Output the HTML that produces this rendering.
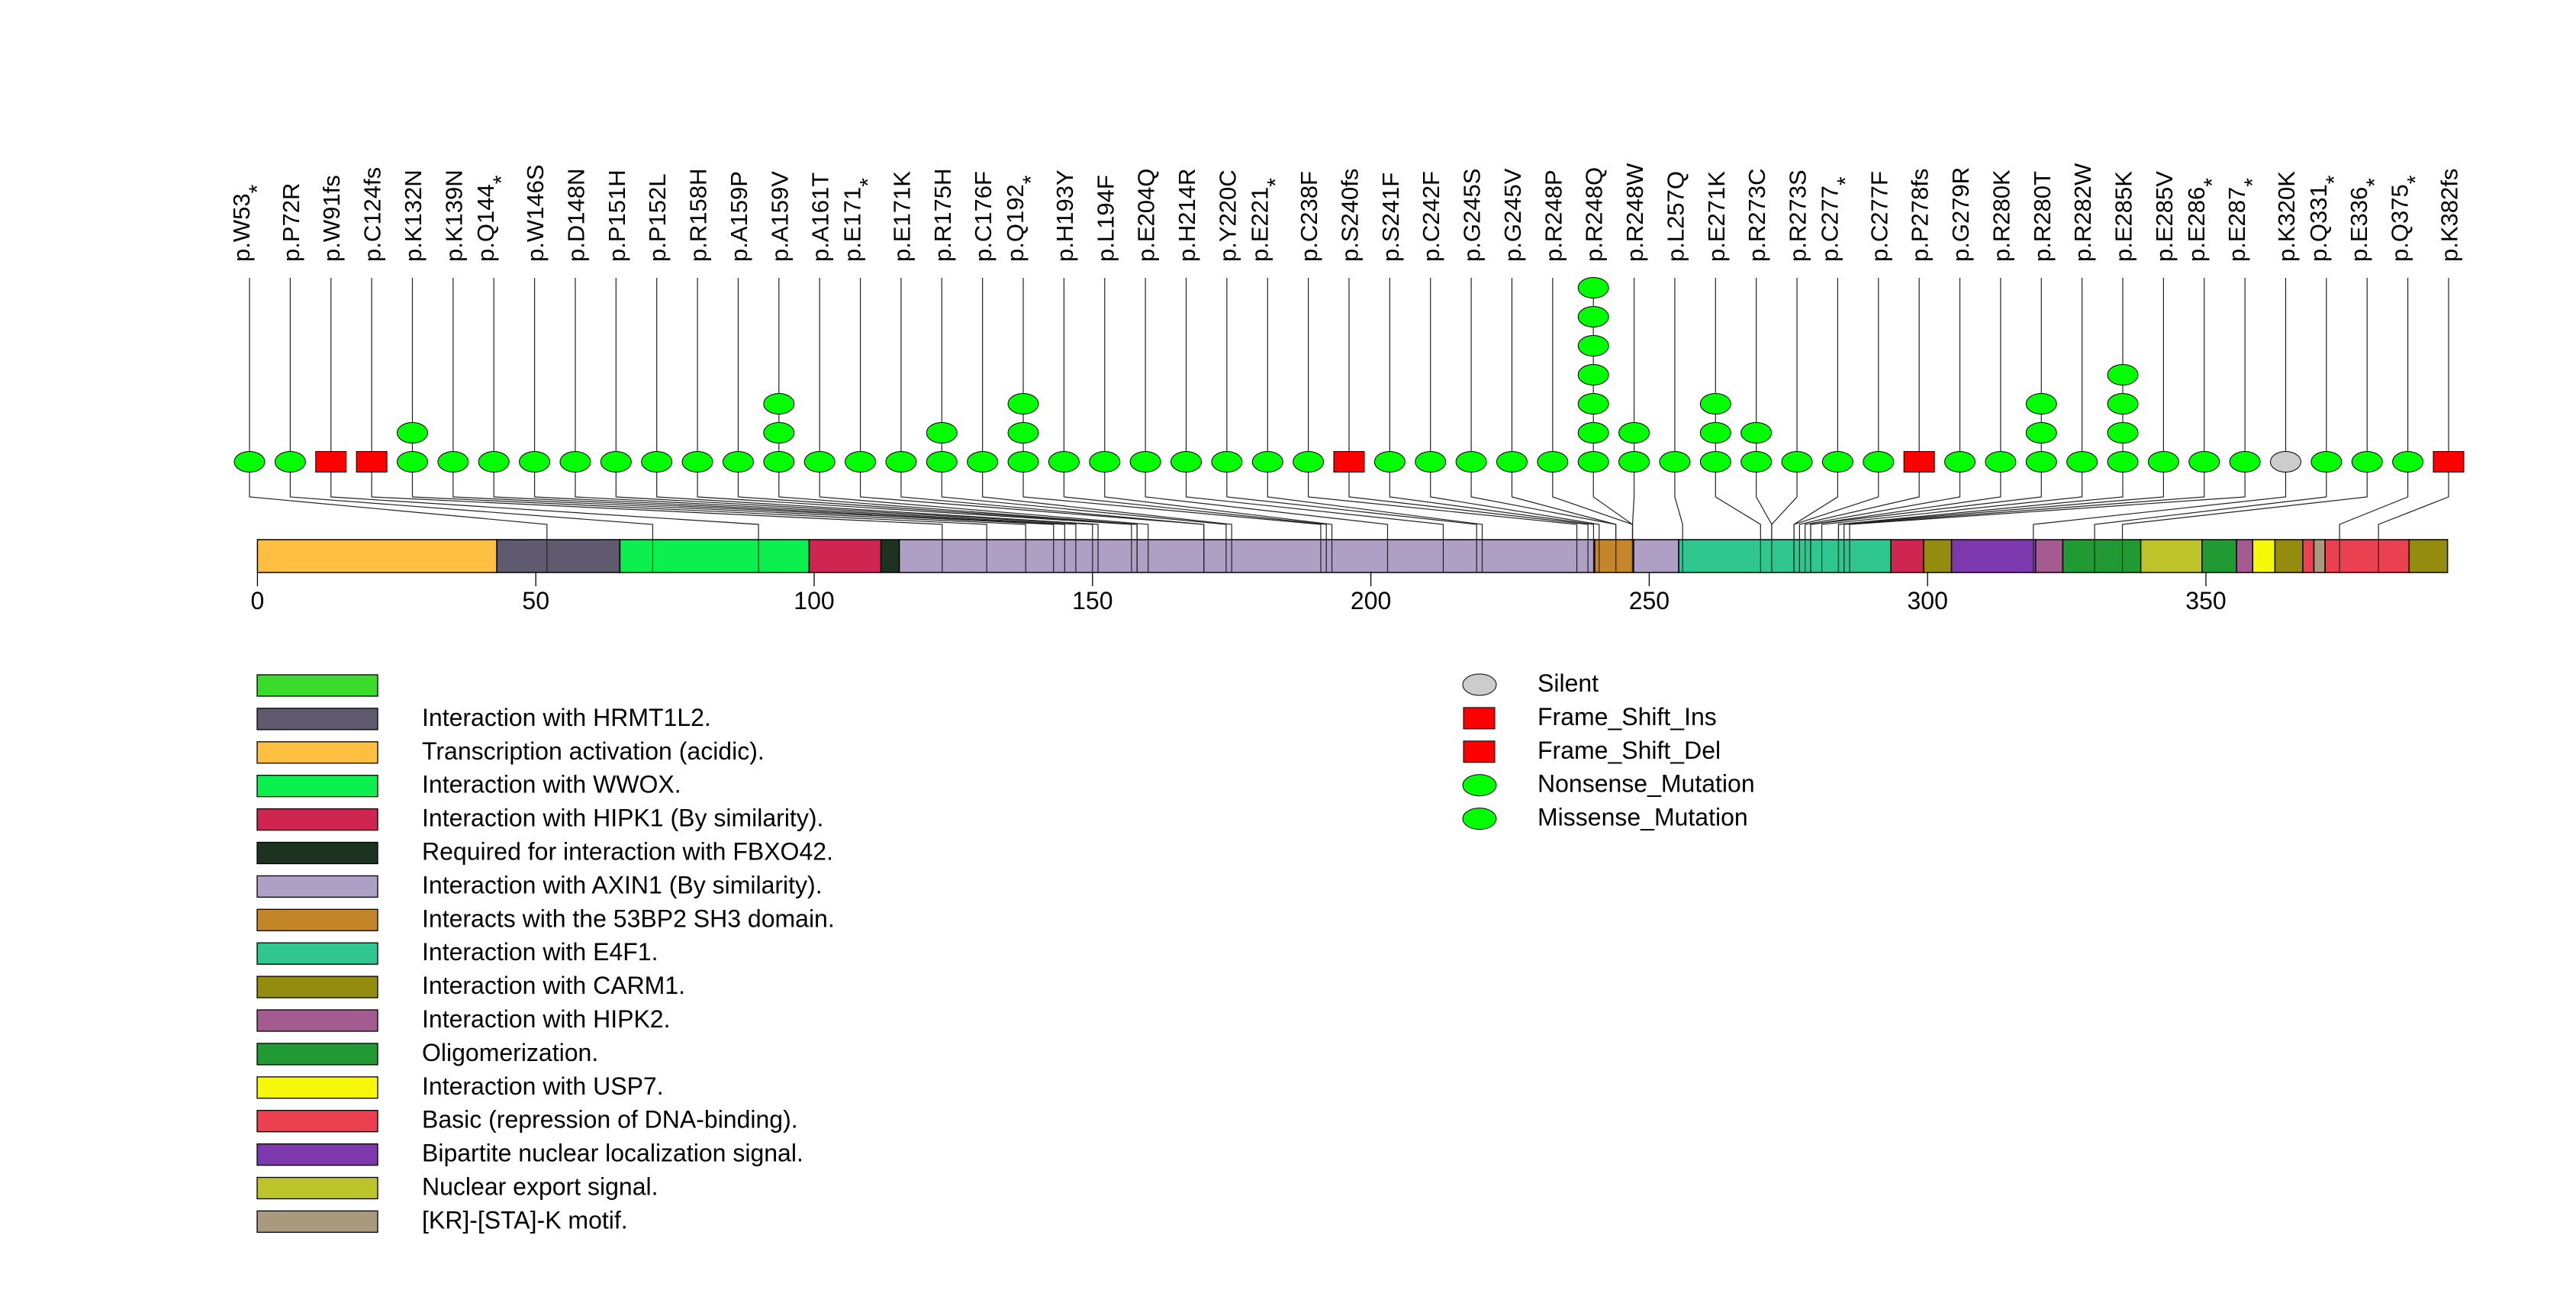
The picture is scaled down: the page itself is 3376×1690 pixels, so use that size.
<!DOCTYPE html>
<html><head><meta charset="utf-8"><style>
html,body{margin:0;padding:0;background:#fff;}
svg{display:block;font-family:"Liberation Sans",sans-serif;}
</style></head><body>
<svg id="chart" width="3376" height="1690" viewBox="0 0 3376 1690" xmlns="http://www.w3.org/2000/svg">
<rect x="0" y="0" width="3376" height="1690" fill="#fff"/>
<g id="connectors"></g>
<g id="domains"></g>
<g id="lines"></g>
<g id="marks"></g>
<g id="labels"></g>
<g id="axis"></g>
<g id="legend"></g>
<g id="legend2"></g>
</svg>
<script>
const mutLabels = ["p.W53*","p.P72R","p.W91fs","p.C124fs","p.K132N","p.K139N","p.Q144*","p.W146S","p.D148N","p.P151H","p.P152L","p.R158H","p.A159P","p.A159V","p.A161T","p.E171*","p.E171K","p.R175H","p.C176F","p.Q192*","p.H193Y","p.L194F","p.E204Q","p.H214R","p.Y220C","p.E221*","p.C238F","p.S240fs","p.S241F","p.C242F","p.G245S","p.G245V","p.R248P","p.R248Q","p.R248W","p.L257Q","p.E271K","p.R273C","p.R273S","p.C277*","p.C277F","p.P278fs","p.G279R","p.R280K","p.R280T","p.R282W","p.E285K","p.E285V","p.E286*","p.E287*","p.K320K","p.Q331*","p.E336*","p.Q375*","p.K382fs"];
const mutPositions = [53,72,91,124,132,139,144,146,148,151,152,158,159,159,161,171,171,175,176,192,193,194,204,214,220,221,238,240,241,242,245,245,248,248,248,257,271,273,273,277,277,278,279,280,280,282,285,285,286,287,320,331,336,375,382];
const mutCounts = [1,1,1,1,2,1,1,1,1,1,1,1,1,3,1,1,1,2,1,3,1,1,1,1,1,1,1,1,1,1,1,1,1,7,2,1,3,2,1,1,1,1,1,1,3,1,4,1,1,1,1,1,1,1,1];
const mutTypes = ["mis","mis","fs","fs","mis","mis","mis","mis","mis","mis","mis","mis","mis","mis","mis","mis","mis","mis","mis","mis","mis","mis","mis","mis","mis","mis","mis","fs","mis","mis","mis","mis","mis","mis","mis","mis","mis","mis","mis","mis","mis","fs","mis","mis","mis","mis","mis","mis","mis","mis","sil","mis","mis","mis","fs"];
const domStarts = [0,43,65.1,99.1,112,115.3,240.2,247.2,255.3,293.4,299.3,304.3,319.4,324.3,338.3,349.3,355.5,358.4,362.4,367.4,369.4,371.4,386.5];
const domEnds = [43,65.1,99.1,112,115.3,240.2,247.2,255.3,293.4,299.3,304.3,319.4,324.3,338.3,349.3,355.5,358.4,362.4,367.4,369.4,371.4,386.5,393.4];
const domColors = ["#FFBF40","#5F5A6E","#0BF04E","#CE2650","#1B3320","#AEA0C4","#C48628","#AEA0C4","#2FC68F","#CE2650","#938C0F","#7E38AD","#A45B90","#229A33","#BDC42A","#229A33","#A45B90","#F7F70A","#938C0F","#EB4050","#A99A7E","#EB4050","#938C0F"];
const tickValues = [0,50,100,150,200,250,300,350];
const legendNames = ["","Interaction with HRMT1L2.","Transcription activation (acidic).","Interaction with WWOX.","Interaction with HIPK1 (By similarity).","Required for interaction with FBXO42.","Interaction with AXIN1 (By similarity).","Interacts with the 53BP2 SH3 domain.","Interaction with E4F1.","Interaction with CARM1.","Interaction with HIPK2.","Oligomerization.","Interaction with USP7.","Basic (repression of DNA-binding).","Bipartite nuclear localization signal.","Nuclear export signal.","[KR]-[STA]-K motif."];
const legendColors = ["#3BDB2B","#5F5A6E","#FFBF40","#0BF04E","#CE2650","#1B3320","#AEA0C4","#C48628","#2FC68F","#938C0F","#A45B90","#229A33","#F7F70A","#EB4050","#7E38AD","#BDC42A","#A99A7E"];
const typeNames = ["Silent","Frame_Shift_Ins","Frame_Shift_Del","Nonsense_Mutation","Missense_Mutation"];
const typeShapes = ["sil","fs","fs","mis","mis"];

const NS="http://www.w3.org/2000/svg";
const X0=337.4, K=7.296;
const xAA = v => X0 + v*K;
const xPos = p => X0 + (p-1)*K;
const colX = i => 327 + i*53.37;
const BAR_TOP=707, BAR_BOT=750, ROW0=605, ROWSTEP=38;
function mk(tag, attrs, parent){const e=document.createElementNS(NS,tag);for(const k in attrs)e.setAttribute(k,attrs[k]);parent.appendChild(e);return e;}
const gDom=document.getElementById('domains'), gLines=document.getElementById('lines'), gMarks=document.getElementById('marks'), gLab=document.getElementById('labels'), gAxis=document.getElementById('axis'), gLeg=document.getElementById('legend'), gLeg2=document.getElementById('legend2');
const fills={mis:"#00FF00",fs:"#FF0000",sil:"#CCCCCC"};

domStarts.forEach((s,i)=>{
  const r=mk('rect',{x:xAA(s),y:BAR_TOP,width:xAA(domEnds[i])-xAA(s),height:BAR_BOT-BAR_TOP,fill:domColors[i],stroke:"#000","stroke-width":1.5},gDom);
  
  
});

mutLabels.forEach((lab,i)=>{
  const cx=colX(i), px=xPos(mutPositions[i]);
  const l=mk('polyline',{points:`${cx},364 ${cx},651 ${px},687 ${px},${BAR_BOT}`,fill:"none",stroke:"#222","stroke-width":1.2},gLines);
  
  
  for(let k=0;k<mutCounts[i];k++){
    const cy=ROW0-k*ROWSTEP;
    let m;
    if(mutTypes[i]==='fs'){
      m=mk('rect',{x:cx-20,y:cy-13.5,width:40,height:27,fill:fills.fs,stroke:"#000","stroke-width":1},gMarks);
    } else {
      m=mk('ellipse',{cx:cx,cy:cy,rx:20,ry:13.5,fill:fills[mutTypes[i]],stroke:"#000","stroke-width":1},gMarks);
    }
    
    
  }
  const star=lab.endsWith('*');
  const base=star?lab.slice(0,-1):lab;
  const bx=star?cx:cx+11.5;
  const t=mk('text',{x:0,y:0,transform:`translate(${bx},343) rotate(-90)`,"font-size":31,fill:"#000"},gLab);
  t.textContent=base;
  if(star){const ts=mk('tspan',{"font-size":30,dy:20},t);ts.textContent='*';}
  
  
});

tickValues.forEach(v=>{
  const x=xAA(v);
  const tl=mk('line',{x1:x,y1:BAR_BOT,x2:x,y2:768,stroke:"#000","stroke-width":1.3},gAxis);
  
  
  const tt=mk('text',{x:x,y:798,"font-size":32,"text-anchor":"middle",fill:"#000"},gAxis);
  tt.textContent=String(v);
  
  
});

legendNames.forEach((n,i)=>{
  const cy=898+i*43.9;
  const r=mk('rect',{x:337,y:cy-14,width:158,height:28,fill:legendColors[i],stroke:"#000","stroke-width":1.3},gLeg);
  
  
  const t=mk('text',{x:553,y:cy+9,"font-size":32,fill:"#000"},gLeg);
  t.textContent=n;
  
  
});

typeNames.forEach((n,i)=>{
  const cy=897+i*43.9, s=typeShapes[i];
  let m;
  if(s==='fs') m=mk('rect',{x:1918,y:cy-14,width:41,height:28,fill:fills.fs,stroke:"#000","stroke-width":1},gLeg2);
  else m=mk('ellipse',{cx:1939,cy:cy,rx:22,ry:14,fill:fills[s],stroke:"#000","stroke-width":1},gLeg2);
  
  
  const t=mk('text',{x:2015,y:cy+9,"font-size":32,fill:"#000"},gLeg2);
  t.textContent=n;
  
  
});
</script>
</body></html>
